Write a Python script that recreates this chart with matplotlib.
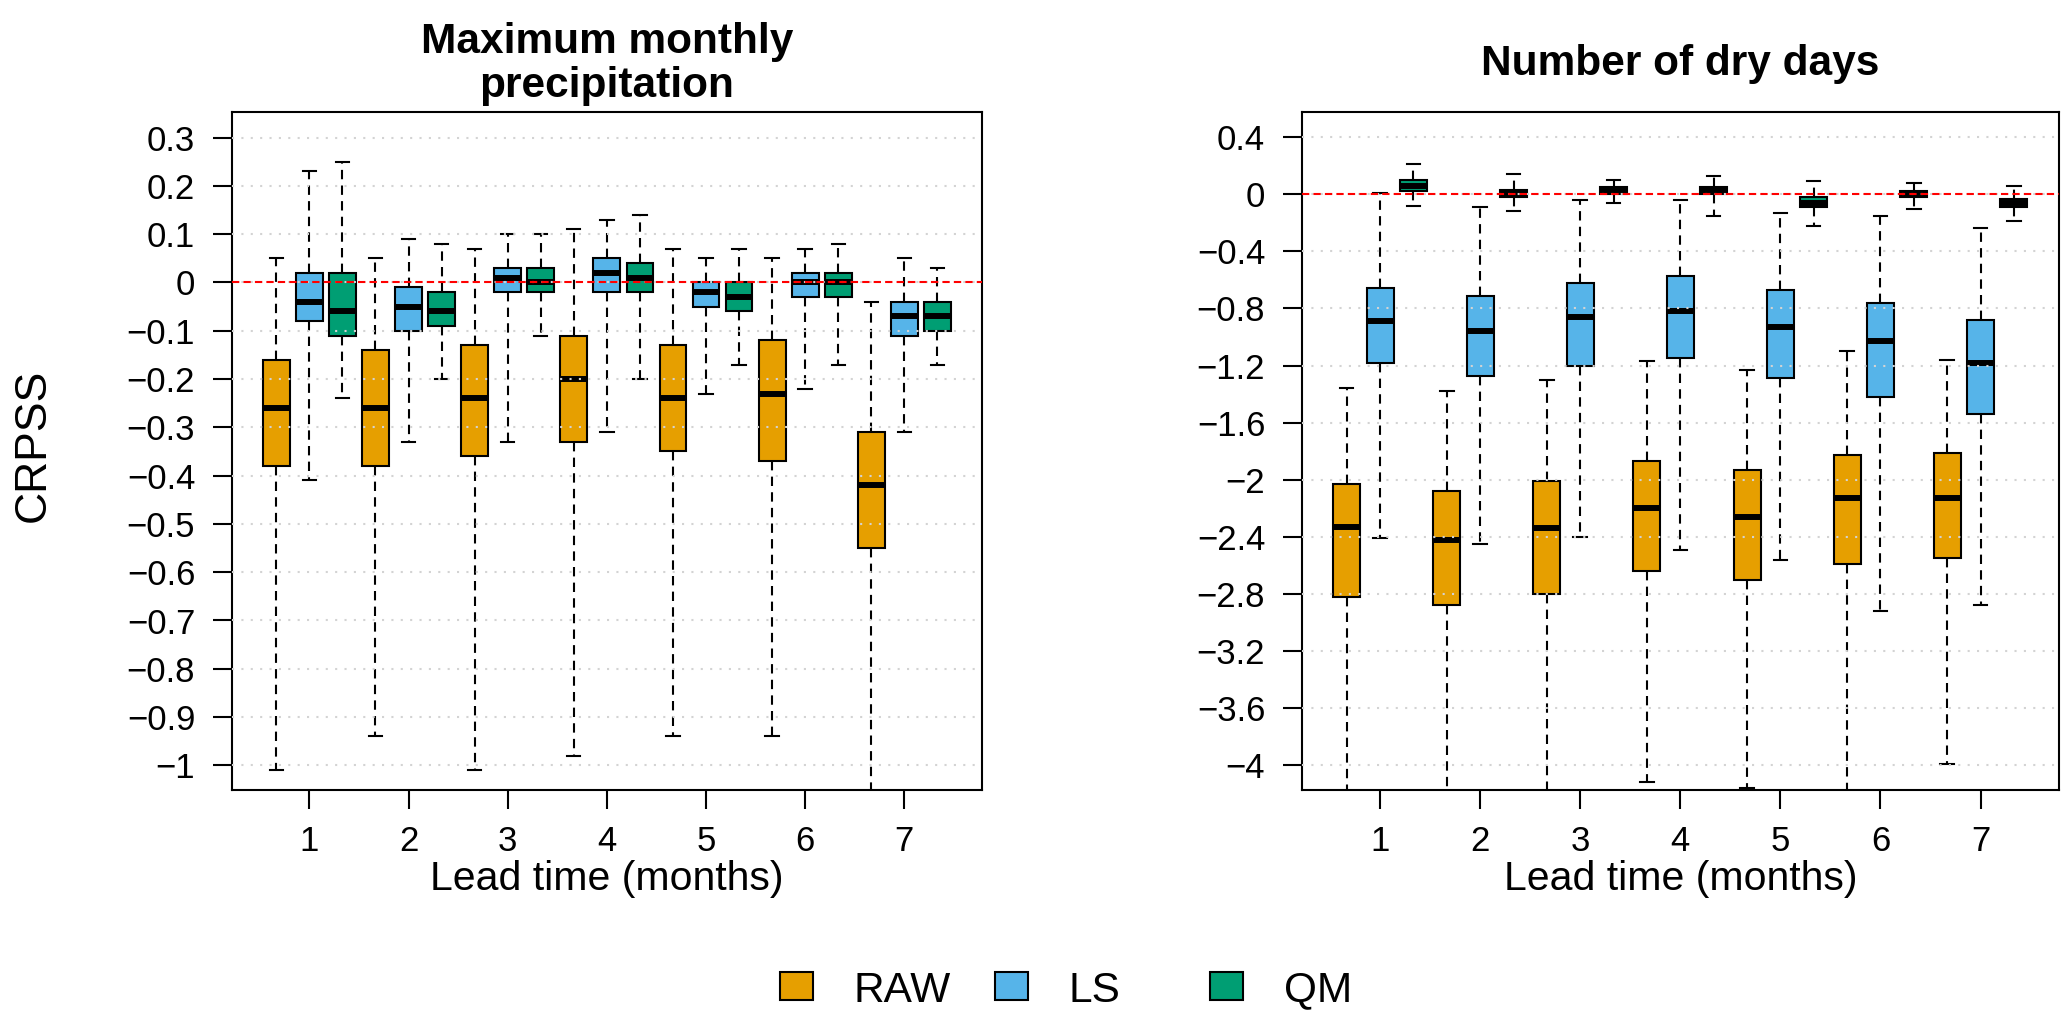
import numpy as np
import matplotlib
matplotlib.use("Agg")
import matplotlib.pyplot as plt
from matplotlib.patches import Rectangle
from matplotlib.ticker import FuncFormatter

plt.rcParams['font.family'] = ['Liberation Sans', 'DejaVu Sans']

leads = [1, 2, 3, 4, 5, 6, 7]
methods = ['RAW', 'LS', 'QM']
colors = ['#E69F00', '#56B4E9', '#009E73']

# Maximum monthly precipitation: box stats per lead time
prec_raw_hi = [0.05, 0.05, 0.07, 0.11, 0.07, 0.05, -0.04]
prec_raw_q3 = [-0.16, -0.14, -0.13, -0.11, -0.13, -0.12, -0.31]
prec_raw_med = [-0.26, -0.26, -0.24, -0.20, -0.24, -0.23, -0.42]
prec_raw_q1 = [-0.38, -0.38, -0.36, -0.33, -0.35, -0.37, -0.55]
prec_raw_lo = [-1.01, -0.94, -1.01, -0.98, -0.94, -0.94, -1.15]

prec_ls_hi = [0.23, 0.09, 0.10, 0.13, 0.05, 0.07, 0.05]
prec_ls_q3 = [0.02, -0.01, 0.03, 0.05, 0.00, 0.02, -0.04]
prec_ls_med = [-0.04, -0.05, 0.01, 0.02, -0.02, 0.00, -0.07]
prec_ls_q1 = [-0.08, -0.10, -0.02, -0.02, -0.05, -0.03, -0.11]
prec_ls_lo = [-0.41, -0.33, -0.33, -0.31, -0.23, -0.22, -0.31]

prec_qm_hi = [0.25, 0.08, 0.10, 0.14, 0.07, 0.08, 0.03]
prec_qm_q3 = [0.02, -0.02, 0.03, 0.04, 0.00, 0.02, -0.04]
prec_qm_med = [-0.06, -0.06, 0.00, 0.01, -0.03, 0.00, -0.07]
prec_qm_q1 = [-0.11, -0.09, -0.02, -0.02, -0.06, -0.03, -0.10]
prec_qm_lo = [-0.24, -0.20, -0.11, -0.20, -0.17, -0.17, -0.17]

# Number of dry days
dry_raw_hi = [-1.36, -1.38, -1.30, -1.17, -1.23, -1.10, -1.16]
dry_raw_q3 = [-2.03, -2.08, -2.01, -1.87, -1.93, -1.83, -1.81]
dry_raw_med = [-2.33, -2.42, -2.34, -2.20, -2.26, -2.13, -2.13]
dry_raw_q1 = [-2.82, -2.88, -2.80, -2.64, -2.70, -2.59, -2.55]
dry_raw_lo = [-4.30, -4.30, -4.25, -4.12, -4.16, -4.30, -3.99]

dry_ls_hi = [0.01, -0.09, -0.04, -0.04, -0.13, -0.15, -0.24]
dry_ls_q3 = [-0.66, -0.71, -0.62, -0.57, -0.67, -0.76, -0.88]
dry_ls_med = [-0.89, -0.96, -0.86, -0.82, -0.93, -1.03, -1.18]
dry_ls_q1 = [-1.18, -1.27, -1.20, -1.15, -1.29, -1.42, -1.54]
dry_ls_lo = [-2.41, -2.45, -2.40, -2.49, -2.56, -2.92, -2.88]

dry_qm_hi = [0.21, 0.14, 0.10, 0.13, 0.09, 0.08, 0.06]
dry_qm_q3 = [0.10, 0.03, 0.05, 0.05, -0.02, 0.02, -0.03]
dry_qm_med = [0.06, 0.00, 0.025, 0.03, -0.06, 0.00, -0.06]
dry_qm_q1 = [0.02, -0.02, 0.00, 0.00, -0.09, -0.02, -0.09]
dry_qm_lo = [-0.08, -0.12, -0.06, -0.15, -0.22, -0.10, -0.19]

prec = [
    (prec_raw_lo, prec_raw_q1, prec_raw_med, prec_raw_q3, prec_raw_hi),
    (prec_ls_lo, prec_ls_q1, prec_ls_med, prec_ls_q3, prec_ls_hi),
    (prec_qm_lo, prec_qm_q1, prec_qm_med, prec_qm_q3, prec_qm_hi),
]
dry = [
    (dry_raw_lo, dry_raw_q1, dry_raw_med, dry_raw_q3, dry_raw_hi),
    (dry_ls_lo, dry_ls_q1, dry_ls_med, dry_ls_q3, dry_ls_hi),
    (dry_qm_lo, dry_qm_q1, dry_qm_med, dry_qm_q3, dry_qm_hi),
]


def fmt(v, _):
    if abs(v) < 1e-9:
        return '0'
    return ('%g' % v).replace('-', '\u2212')


def panel(ax, groups, ylim, yticks):
    offsets = [-1 / 3, 0, 1 / 3]
    for (lo, q1, med, q3, hi), off, c in zip(groups, offsets, colors):
        stats = [dict(whislo=a, q1=b, med=m, q3=d, whishi=e, fliers=[])
                 for a, b, m, d, e in zip(lo, q1, med, q3, hi)]
        ax.bxp(stats, positions=np.array(leads) + off, widths=0.27,
               capwidths=0.135, patch_artist=True, showfliers=False,
               manage_ticks=False,
               boxprops=dict(facecolor=c, edgecolor='black', linewidth=1.5),
               medianprops=dict(color='black', linewidth=4.3, solid_capstyle='butt'),
               whiskerprops=dict(color='black', linewidth=1.5, linestyle=(0, (4.5, 3))),
               capprops=dict(color='black', linewidth=1.5))
    ax.axhline(0, color='red', linestyle=(0, (3.5, 2)), linewidth=1.5, zorder=3)
    ax.set_xlim(0.22, 7.78)
    ax.set_ylim(*ylim)
    ax.set_xticks(leads)
    ax.set_xticklabels([str(l) for l in leads])
    ax.set_yticks(yticks)
    ax.yaxis.set_major_formatter(FuncFormatter(fmt))
    ax.set_axisbelow(False)
    ax.yaxis.grid(True, color='#D3D3D3', linestyle=(0, (1, 3.5)), linewidth=1.5)
    ax.tick_params(axis='both', length=13.5, width=1.5, labelsize=25)
    ax.tick_params(axis='x', pad=12)
    ax.tick_params(axis='y', pad=13)
    for s in ax.spines.values():
        s.set_linewidth(1.5)
    ax.set_xlabel('Lead time (months)', fontsize=29.5, va='baseline')
    ax.xaxis.set_label_coords(0.5, -(890 - 790) / 678)


W, H = 2067, 1021
fig = plt.figure(figsize=(W / 100, H / 100), dpi=100)
bottom = 1 - 790 / H
height = 678 / H
ax1 = fig.add_axes([232 / W, bottom, 749.7 / W, height])
ax2 = fig.add_axes([1302 / W, bottom, 756.6 / W, height])

panel(ax1, prec, (-1.051, 0.353), np.round(np.arange(-1.0, 0.31, 0.1), 1))
panel(ax2, dry, (-4.173, 0.576), np.round(np.arange(-4.0, 0.41, 0.4), 1))

# titles
fig.text((232 + 981.7) / 2 / W, 1 - 53.3 / H, 'Maximum monthly', ha='center',
         va='baseline', fontsize=30.5, fontweight='bold')
fig.text((232 + 981.7) / 2 / W, 1 - 97.3 / H, 'precipitation', ha='center',
         va='baseline', fontsize=30.5, fontweight='bold')
fig.text((1302 + 2058.6) / 2 / W, 1 - 75 / H, 'Number of dry days', ha='center',
         va='baseline', fontsize=30.5, fontweight='bold')

fig.text(33 / W, 1 - 445 / H, 'CRPSS', rotation=90, ha='center', va='center',
         fontsize=32)

# legend along the bottom
for i, (name, c) in enumerate(zip(methods, colors)):
    x0 = 780 + i * 214.8
    fig.add_artist(Rectangle((x0 / W, 1 - 1000 / H), 33 / W, 28 / H,
                             facecolor=c, edgecolor='black', linewidth=1.5,
                             transform=fig.transFigure))
    fig.text((x0 + 74) / W, 1 - 1001.7 / H, name, ha='left', va='baseline',
             fontsize=30.5)

fig.savefig('out.png', dpi=100)
